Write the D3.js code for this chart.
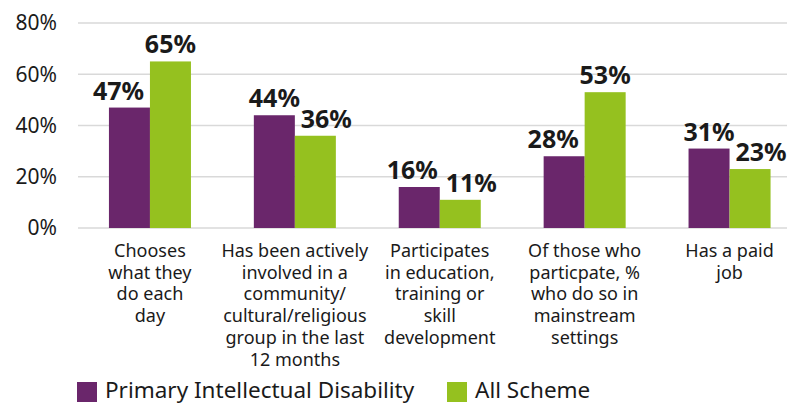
<!DOCTYPE html>
<html>
<head>
<meta charset="utf-8">
<script src="https://cdn.jsdelivr.net/npm/d3@7"></script>
<style>
  body { margin: 0; background: #fff; }
  svg text { font-family: "Noto Sans", sans-serif; fill: #1a1a1a; }
</style>
</head>
<body>
<div id="chart"></div>
<script>
const categories = [
  'Chooses\nwhat they\ndo each\nday',
  'Has been actively\ninvolved in a\ncommunity/\ncultural/religious\ngroup in the last\n12 months',
  'Participates\nin education,\ntraining or\nskill\ndevelopment',
  'Of those who\nparticpate, %\nwho do so in\nmainstream\nsettings',
  'Has a paid\njob'
];
const seriesNames = ['Primary Intellectual Disability', 'All Scheme'];
const intellectual = [47, 44, 16, 28, 31];
const allScheme = [65, 36, 11, 53, 23];
const yTicks = [0, 20, 40, 60, 80];
const colors = ['#6a266b', '#95c11f'];

const width = 787, height = 405;
const svg = d3.select('#chart').append('svg')
  .attr('width', width).attr('height', height);

const x0 = d3.scaleBand()
  .domain(d3.range(categories.length))
  .range([77.5, 802])
  .paddingInner(0.434)
  .paddingOuter(0.217);

const x1 = d3.scaleBand()
  .domain([0, 1])
  .range([0, x0.bandwidth()]);

const y = d3.scaleLinear().domain([0, 80]).range([228, 23]);

// gridlines
svg.append('g').selectAll('line')
  .data(yTicks)
  .enter().append('line')
  .attr('x1', 78).attr('x2', width)
  .attr('y1', d => y(d)).attr('y2', d => y(d))
  .attr('stroke', '#d9d9d9').attr('stroke-width', 1.5);

// y axis labels
svg.append('g').selectAll('text')
  .data(yTicks)
  .enter().append('text')
  .attr('x', 57).attr('y', d => y(d))
  .attr('dy', '0.35em')
  .attr('text-anchor', 'end')
  .style('font-size', '21px')
  .text(d => d + '%');

const rows = categories.map((c, i) => ({ i, vals: [intellectual[i], allScheme[i]] }));

const groups = svg.append('g').selectAll('g')
  .data(rows)
  .enter().append('g')
  .attr('transform', d => `translate(${x0(d.i)},0)`);

groups.selectAll('rect')
  .data(d => d.vals.map((v, s) => ({ v, s })))
  .enter().append('rect')
  .attr('x', d => x1(d.s))
  .attr('width', x1.bandwidth())
  .attr('y', d => y(d.v))
  .attr('height', d => y(0) - y(d.v))
  .attr('fill', d => colors[d.s]);

// value labels, pushed apart when they would collide with the neighbour bar
const labelH = 17, gap = 8;
function labelShift(vals, s) {
  const v = vals[s], o = vals[1 - s];
  const dir = s === 0 ? -1 : 1;
  if (v < o) return dir * 11;
  if (Math.abs(y(v) - y(o)) < labelH) return dir * 7;
  return 0;
}
groups.selectAll('text.val')
  .data(d => d.vals.map((v, s) => ({ v, s, shift: labelShift(d.vals, s) })))
  .enter().append('text')
  .attr('class', 'val')
  .attr('x', d => x1(d.s) + x1.bandwidth() / 2 + d.shift)
  .attr('y', d => y(d.v) - gap)
  .attr('text-anchor', 'middle')
  .style('font-size', '25px')
  .style('font-weight', 'bold')
  .text(d => d.v + '%');

// category labels
svg.append('g').selectAll('text')
  .data(categories)
  .enter().append('text')
  .attr('x', (d, i) => x0(i) + x0.bandwidth() / 2)
  .attr('y', 257)
  .attr('text-anchor', 'middle')
  .style('font-size', '18px')
  .each(function (d) {
    d3.select(this).selectAll('tspan')
      .data(d.split('\n'))
      .enter().append('tspan')
      .attr('x', d3.select(this).attr('x'))
      .attr('dy', (t, k) => k === 0 ? 0 : 21.7)
      .text(t => t);
  });

// legend
const legend = svg.append('g');
const legendX = [77, 447];
seriesNames.forEach((name, s) => {
  legend.append('rect')
    .attr('x', legendX[s]).attr('y', 382)
    .attr('width', 20).attr('height', 20)
    .attr('fill', colors[s]);
  legend.append('text')
    .attr('x', legendX[s] + 28).attr('y', 398)
    .style('font-size', '22.5px')
    .text(name);
});
</script>
</body>
</html>
